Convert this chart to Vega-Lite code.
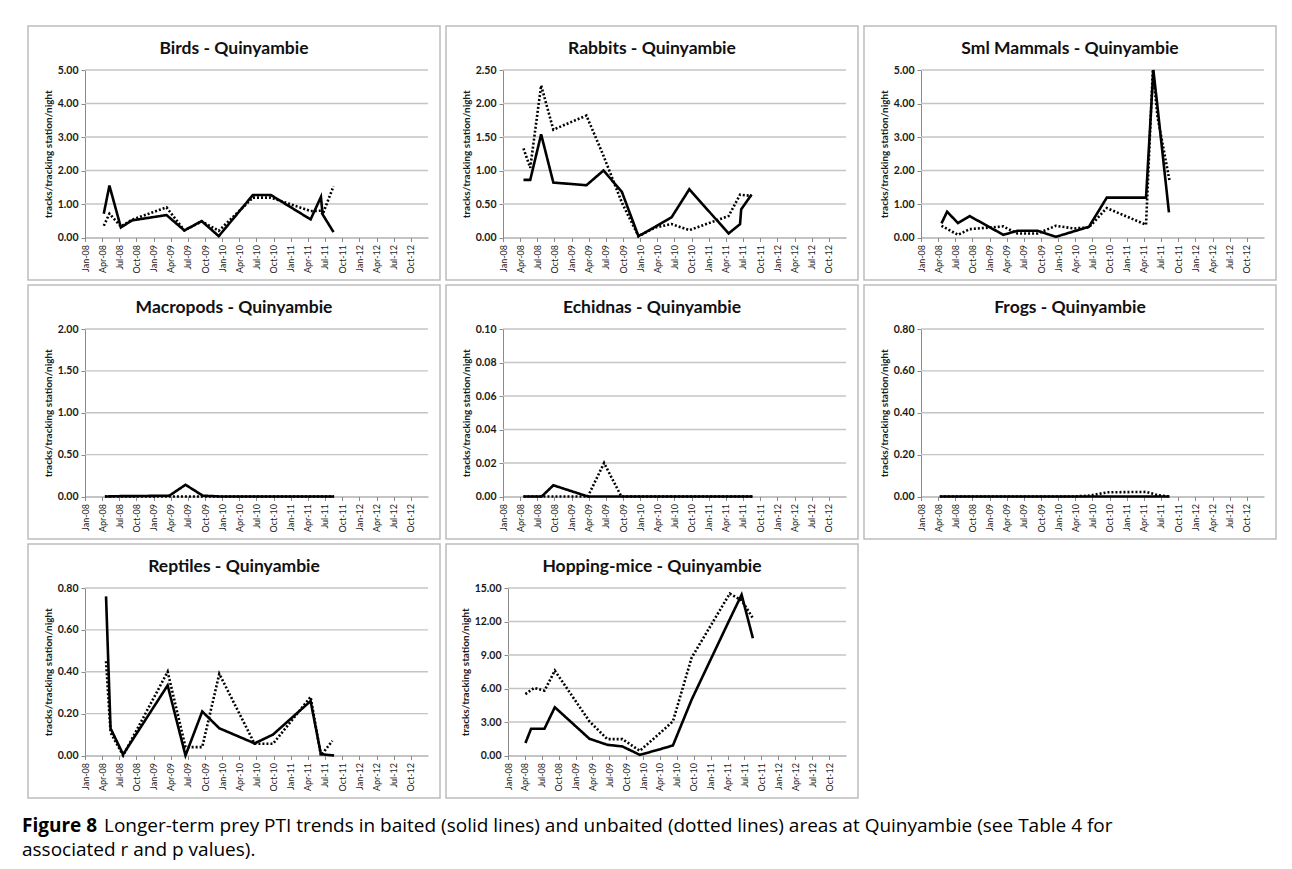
{
  "$schema": "https://vega.github.io/schema/vega-lite/v6.json",
  "background": "white",
  "padding": {"left": 22, "top": 25, "right": 5, "bottom": 5},
  "datasets": {
    "pti": [
      {"group": "Birds", "area": "Baited", "date": "2008-04-10", "pti": 0.71},
      {"group": "Birds", "area": "Baited", "date": "2008-05-10", "pti": 1.55},
      {"group": "Birds", "area": "Baited", "date": "2008-07-10", "pti": 0.30},
      {"group": "Birds", "area": "Baited", "date": "2008-09-07", "pti": 0.51},
      {"group": "Birds", "area": "Baited", "date": "2009-03-10", "pti": 0.67},
      {"group": "Birds", "area": "Baited", "date": "2009-06-13", "pti": 0.21},
      {"group": "Birds", "area": "Baited", "date": "2009-09-13", "pti": 0.49},
      {"group": "Birds", "area": "Baited", "date": "2009-12-13", "pti": 0.04},
      {"group": "Birds", "area": "Baited", "date": "2010-06-13", "pti": 1.27},
      {"group": "Birds", "area": "Baited", "date": "2010-09-16", "pti": 1.27},
      {"group": "Birds", "area": "Baited", "date": "2011-04-16", "pti": 0.54},
      {"group": "Birds", "area": "Baited", "date": "2011-06-10", "pti": 1.21},
      {"group": "Birds", "area": "Baited", "date": "2011-06-19", "pti": 0.69},
      {"group": "Birds", "area": "Baited", "date": "2011-08-16", "pti": 0.16},
      {"group": "Birds", "area": "Unbaited", "date": "2008-04-10", "pti": 0.35},
      {"group": "Birds", "area": "Unbaited", "date": "2008-05-10", "pti": 0.71},
      {"group": "Birds", "area": "Unbaited", "date": "2008-07-10", "pti": 0.33},
      {"group": "Birds", "area": "Unbaited", "date": "2008-09-07", "pti": 0.53},
      {"group": "Birds", "area": "Unbaited", "date": "2009-03-10", "pti": 0.90},
      {"group": "Birds", "area": "Unbaited", "date": "2009-06-13", "pti": 0.21},
      {"group": "Birds", "area": "Unbaited", "date": "2009-09-13", "pti": 0.48},
      {"group": "Birds", "area": "Unbaited", "date": "2009-12-13", "pti": 0.20},
      {"group": "Birds", "area": "Unbaited", "date": "2010-06-13", "pti": 1.19},
      {"group": "Birds", "area": "Unbaited", "date": "2010-09-16", "pti": 1.19},
      {"group": "Birds", "area": "Unbaited", "date": "2011-04-16", "pti": 0.79},
      {"group": "Birds", "area": "Unbaited", "date": "2011-06-10", "pti": 0.80},
      {"group": "Birds", "area": "Unbaited", "date": "2011-06-19", "pti": 0.69},
      {"group": "Birds", "area": "Unbaited", "date": "2011-08-16", "pti": 1.53},

      {"group": "Rabbits", "area": "Baited", "date": "2008-04-19", "pti": 0.86},
      {"group": "Rabbits", "area": "Baited", "date": "2008-05-25", "pti": 0.86},
      {"group": "Rabbits", "area": "Baited", "date": "2008-07-22", "pti": 1.54},
      {"group": "Rabbits", "area": "Baited", "date": "2008-09-25", "pti": 0.82},
      {"group": "Rabbits", "area": "Baited", "date": "2009-03-20", "pti": 0.78},
      {"group": "Rabbits", "area": "Baited", "date": "2009-06-19", "pti": 1.00},
      {"group": "Rabbits", "area": "Baited", "date": "2009-09-25", "pti": 0.68},
      {"group": "Rabbits", "area": "Baited", "date": "2009-12-22", "pti": 0.02},
      {"group": "Rabbits", "area": "Baited", "date": "2010-03-22", "pti": 0.16},
      {"group": "Rabbits", "area": "Baited", "date": "2010-06-16", "pti": 0.30},
      {"group": "Rabbits", "area": "Baited", "date": "2010-09-19", "pti": 0.72},
      {"group": "Rabbits", "area": "Baited", "date": "2011-04-16", "pti": 0.06},
      {"group": "Rabbits", "area": "Baited", "date": "2011-06-16", "pti": 0.20},
      {"group": "Rabbits", "area": "Baited", "date": "2011-06-22", "pti": 0.42},
      {"group": "Rabbits", "area": "Baited", "date": "2011-08-16", "pti": 0.64},
      {"group": "Rabbits", "area": "Unbaited", "date": "2008-04-19", "pti": 1.33},
      {"group": "Rabbits", "area": "Unbaited", "date": "2008-05-25", "pti": 1.04},
      {"group": "Rabbits", "area": "Unbaited", "date": "2008-07-22", "pti": 2.27},
      {"group": "Rabbits", "area": "Unbaited", "date": "2008-09-25", "pti": 1.61},
      {"group": "Rabbits", "area": "Unbaited", "date": "2009-03-20", "pti": 1.82},
      {"group": "Rabbits", "area": "Unbaited", "date": "2009-06-19", "pti": 1.22},
      {"group": "Rabbits", "area": "Unbaited", "date": "2009-09-25", "pti": 0.52},
      {"group": "Rabbits", "area": "Unbaited", "date": "2009-12-22", "pti": 0.02},
      {"group": "Rabbits", "area": "Unbaited", "date": "2010-03-22", "pti": 0.15},
      {"group": "Rabbits", "area": "Unbaited", "date": "2010-06-16", "pti": 0.20},
      {"group": "Rabbits", "area": "Unbaited", "date": "2010-09-19", "pti": 0.11},
      {"group": "Rabbits", "area": "Unbaited", "date": "2011-04-16", "pti": 0.32},
      {"group": "Rabbits", "area": "Unbaited", "date": "2011-06-16", "pti": 0.64},
      {"group": "Rabbits", "area": "Unbaited", "date": "2011-08-16", "pti": 0.62},

      {"group": "Sml Mammals", "area": "Baited", "date": "2008-04-19", "pti": 0.42},
      {"group": "Sml Mammals", "area": "Baited", "date": "2008-05-19", "pti": 0.77},
      {"group": "Sml Mammals", "area": "Baited", "date": "2008-07-16", "pti": 0.43},
      {"group": "Sml Mammals", "area": "Baited", "date": "2008-09-16", "pti": 0.64},
      {"group": "Sml Mammals", "area": "Baited", "date": "2009-03-14", "pti": 0.08},
      {"group": "Sml Mammals", "area": "Baited", "date": "2009-05-28", "pti": 0.20},
      {"group": "Sml Mammals", "area": "Baited", "date": "2009-09-13", "pti": 0.20},
      {"group": "Sml Mammals", "area": "Baited", "date": "2009-12-19", "pti": 0.02},
      {"group": "Sml Mammals", "area": "Baited", "date": "2010-06-13", "pti": 0.32},
      {"group": "Sml Mammals", "area": "Baited", "date": "2010-09-16", "pti": 1.19},
      {"group": "Sml Mammals", "area": "Baited", "date": "2011-04-13", "pti": 1.19},
      {"group": "Sml Mammals", "area": "Baited", "date": "2011-05-22", "pti": 6.4},
      {"group": "Sml Mammals", "area": "Baited", "date": "2011-06-13", "pti": 3.9},
      {"group": "Sml Mammals", "area": "Baited", "date": "2011-08-13", "pti": 0.75},
      {"group": "Sml Mammals", "area": "Unbaited", "date": "2008-04-19", "pti": 0.35},
      {"group": "Sml Mammals", "area": "Unbaited", "date": "2008-07-16", "pti": 0.08},
      {"group": "Sml Mammals", "area": "Unbaited", "date": "2008-09-16", "pti": 0.25},
      {"group": "Sml Mammals", "area": "Unbaited", "date": "2009-03-14", "pti": 0.33},
      {"group": "Sml Mammals", "area": "Unbaited", "date": "2009-05-28", "pti": 0.12},
      {"group": "Sml Mammals", "area": "Unbaited", "date": "2009-09-13", "pti": 0.12},
      {"group": "Sml Mammals", "area": "Unbaited", "date": "2009-12-19", "pti": 0.35},
      {"group": "Sml Mammals", "area": "Unbaited", "date": "2010-03-25", "pti": 0.27},
      {"group": "Sml Mammals", "area": "Unbaited", "date": "2010-06-13", "pti": 0.30},
      {"group": "Sml Mammals", "area": "Unbaited", "date": "2010-09-16", "pti": 0.88},
      {"group": "Sml Mammals", "area": "Unbaited", "date": "2011-04-13", "pti": 0.38},
      {"group": "Sml Mammals", "area": "Unbaited", "date": "2011-05-19", "pti": 6.0},
      {"group": "Sml Mammals", "area": "Unbaited", "date": "2011-06-13", "pti": 3.6},
      {"group": "Sml Mammals", "area": "Unbaited", "date": "2011-08-16", "pti": 1.70},

      {"group": "Macropods", "area": "Baited", "date": "2008-04-16", "pti": 0},
      {"group": "Macropods", "area": "Baited", "date": "2008-07-22", "pti": 0.005},
      {"group": "Macropods", "area": "Baited", "date": "2008-09-25", "pti": 0.005},
      {"group": "Macropods", "area": "Baited", "date": "2009-03-25", "pti": 0.01},
      {"group": "Macropods", "area": "Baited", "date": "2009-06-19", "pti": 0.14},
      {"group": "Macropods", "area": "Baited", "date": "2009-09-19", "pti": 0.01},
      {"group": "Macropods", "area": "Baited", "date": "2009-12-22", "pti": 0},
      {"group": "Macropods", "area": "Baited", "date": "2010-06-16", "pti": 0},
      {"group": "Macropods", "area": "Baited", "date": "2010-09-19", "pti": 0},
      {"group": "Macropods", "area": "Baited", "date": "2011-04-16", "pti": 0},
      {"group": "Macropods", "area": "Baited", "date": "2011-06-16", "pti": 0},
      {"group": "Macropods", "area": "Baited", "date": "2011-08-19", "pti": 0},
      {"group": "Macropods", "area": "Unbaited", "date": "2008-04-16", "pti": 0},
      {"group": "Macropods", "area": "Unbaited", "date": "2008-07-22", "pti": 0},
      {"group": "Macropods", "area": "Unbaited", "date": "2008-09-25", "pti": 0},
      {"group": "Macropods", "area": "Unbaited", "date": "2009-03-25", "pti": 0},
      {"group": "Macropods", "area": "Unbaited", "date": "2009-06-19", "pti": 0},
      {"group": "Macropods", "area": "Unbaited", "date": "2009-09-19", "pti": 0},
      {"group": "Macropods", "area": "Unbaited", "date": "2009-12-22", "pti": 0},
      {"group": "Macropods", "area": "Unbaited", "date": "2010-06-16", "pti": 0},
      {"group": "Macropods", "area": "Unbaited", "date": "2010-09-19", "pti": 0},
      {"group": "Macropods", "area": "Unbaited", "date": "2011-04-16", "pti": 0},
      {"group": "Macropods", "area": "Unbaited", "date": "2011-06-16", "pti": 0},
      {"group": "Macropods", "area": "Unbaited", "date": "2011-08-19", "pti": 0},

      {"group": "Echidnas", "area": "Baited", "date": "2008-04-19", "pti": 0},
      {"group": "Echidnas", "area": "Baited", "date": "2008-07-25", "pti": 0},
      {"group": "Echidnas", "area": "Baited", "date": "2008-09-25", "pti": 0.0067},
      {"group": "Echidnas", "area": "Baited", "date": "2009-03-28", "pti": 0},
      {"group": "Echidnas", "area": "Baited", "date": "2009-06-22", "pti": 0},
      {"group": "Echidnas", "area": "Baited", "date": "2009-09-22", "pti": 0},
      {"group": "Echidnas", "area": "Baited", "date": "2009-12-22", "pti": 0},
      {"group": "Echidnas", "area": "Baited", "date": "2010-06-16", "pti": 0},
      {"group": "Echidnas", "area": "Baited", "date": "2010-09-19", "pti": 0},
      {"group": "Echidnas", "area": "Baited", "date": "2011-04-16", "pti": 0},
      {"group": "Echidnas", "area": "Baited", "date": "2011-06-16", "pti": 0},
      {"group": "Echidnas", "area": "Baited", "date": "2011-08-22", "pti": 0},
      {"group": "Echidnas", "area": "Unbaited", "date": "2008-04-19", "pti": 0},
      {"group": "Echidnas", "area": "Unbaited", "date": "2008-07-25", "pti": 0},
      {"group": "Echidnas", "area": "Unbaited", "date": "2008-09-25", "pti": 0},
      {"group": "Echidnas", "area": "Unbaited", "date": "2009-03-28", "pti": 0},
      {"group": "Echidnas", "area": "Unbaited", "date": "2009-06-22", "pti": 0.02},
      {"group": "Echidnas", "area": "Unbaited", "date": "2009-09-22", "pti": 0},
      {"group": "Echidnas", "area": "Unbaited", "date": "2009-12-22", "pti": 0},
      {"group": "Echidnas", "area": "Unbaited", "date": "2010-06-16", "pti": 0},
      {"group": "Echidnas", "area": "Unbaited", "date": "2010-09-19", "pti": 0},
      {"group": "Echidnas", "area": "Unbaited", "date": "2011-04-16", "pti": 0},
      {"group": "Echidnas", "area": "Unbaited", "date": "2011-06-16", "pti": 0},
      {"group": "Echidnas", "area": "Unbaited", "date": "2011-08-22", "pti": 0},

      {"group": "Frogs", "area": "Baited", "date": "2008-04-10", "pti": 0},
      {"group": "Frogs", "area": "Baited", "date": "2008-07-22", "pti": 0},
      {"group": "Frogs", "area": "Baited", "date": "2008-09-25", "pti": 0},
      {"group": "Frogs", "area": "Baited", "date": "2009-03-20", "pti": 0},
      {"group": "Frogs", "area": "Baited", "date": "2009-06-19", "pti": 0},
      {"group": "Frogs", "area": "Baited", "date": "2009-09-25", "pti": 0},
      {"group": "Frogs", "area": "Baited", "date": "2009-12-22", "pti": 0},
      {"group": "Frogs", "area": "Baited", "date": "2010-06-16", "pti": 0},
      {"group": "Frogs", "area": "Baited", "date": "2010-09-19", "pti": 0},
      {"group": "Frogs", "area": "Baited", "date": "2011-04-16", "pti": 0},
      {"group": "Frogs", "area": "Baited", "date": "2011-06-16", "pti": 0},
      {"group": "Frogs", "area": "Baited", "date": "2011-08-16", "pti": 0},
      {"group": "Frogs", "area": "Unbaited", "date": "2008-04-10", "pti": 0},
      {"group": "Frogs", "area": "Unbaited", "date": "2008-07-22", "pti": 0},
      {"group": "Frogs", "area": "Unbaited", "date": "2008-09-25", "pti": 0},
      {"group": "Frogs", "area": "Unbaited", "date": "2009-03-20", "pti": 0},
      {"group": "Frogs", "area": "Unbaited", "date": "2009-06-19", "pti": 0},
      {"group": "Frogs", "area": "Unbaited", "date": "2009-09-25", "pti": 0},
      {"group": "Frogs", "area": "Unbaited", "date": "2009-12-22", "pti": 0},
      {"group": "Frogs", "area": "Unbaited", "date": "2010-03-22", "pti": 0},
      {"group": "Frogs", "area": "Unbaited", "date": "2010-06-16", "pti": 0.004},
      {"group": "Frogs", "area": "Unbaited", "date": "2010-09-19", "pti": 0.02},
      {"group": "Frogs", "area": "Unbaited", "date": "2011-04-16", "pti": 0.022},
      {"group": "Frogs", "area": "Unbaited", "date": "2011-06-16", "pti": 0.006},
      {"group": "Frogs", "area": "Unbaited", "date": "2011-08-16", "pti": 0},

      {"group": "Reptiles", "area": "Baited", "date": "2008-04-22", "pti": 0.76},
      {"group": "Reptiles", "area": "Baited", "date": "2008-05-16", "pti": 0.13},
      {"group": "Reptiles", "area": "Baited", "date": "2008-07-22", "pti": 0.005},
      {"group": "Reptiles", "area": "Baited", "date": "2009-03-16", "pti": 0.335},
      {"group": "Reptiles", "area": "Baited", "date": "2009-06-19", "pti": 0},
      {"group": "Reptiles", "area": "Baited", "date": "2009-09-16", "pti": 0.21},
      {"group": "Reptiles", "area": "Baited", "date": "2009-12-16", "pti": 0.13},
      {"group": "Reptiles", "area": "Baited", "date": "2010-06-22", "pti": 0.058},
      {"group": "Reptiles", "area": "Baited", "date": "2010-09-28", "pti": 0.10},
      {"group": "Reptiles", "area": "Baited", "date": "2011-04-16", "pti": 0.26},
      {"group": "Reptiles", "area": "Baited", "date": "2011-06-10", "pti": 0.006},
      {"group": "Reptiles", "area": "Baited", "date": "2011-08-19", "pti": 0},
      {"group": "Reptiles", "area": "Unbaited", "date": "2008-04-22", "pti": 0.45},
      {"group": "Reptiles", "area": "Unbaited", "date": "2008-05-16", "pti": 0.11},
      {"group": "Reptiles", "area": "Unbaited", "date": "2008-07-22", "pti": 0},
      {"group": "Reptiles", "area": "Unbaited", "date": "2009-03-16", "pti": 0.40},
      {"group": "Reptiles", "area": "Unbaited", "date": "2009-06-19", "pti": 0.04},
      {"group": "Reptiles", "area": "Unbaited", "date": "2009-09-16", "pti": 0.04},
      {"group": "Reptiles", "area": "Unbaited", "date": "2009-12-16", "pti": 0.39},
      {"group": "Reptiles", "area": "Unbaited", "date": "2010-06-22", "pti": 0.056},
      {"group": "Reptiles", "area": "Unbaited", "date": "2010-09-28", "pti": 0.056},
      {"group": "Reptiles", "area": "Unbaited", "date": "2011-04-16", "pti": 0.28},
      {"group": "Reptiles", "area": "Unbaited", "date": "2011-06-10", "pti": 0},
      {"group": "Reptiles", "area": "Unbaited", "date": "2011-08-10", "pti": 0.07},

      {"group": "Hopping-mice", "area": "Baited", "date": "2008-04-04", "pti": 1.11},
      {"group": "Hopping-mice", "area": "Baited", "date": "2008-05-05", "pti": 2.40},
      {"group": "Hopping-mice", "area": "Baited", "date": "2008-07-16", "pti": 2.40},
      {"group": "Hopping-mice", "area": "Baited", "date": "2008-09-10", "pti": 4.32},
      {"group": "Hopping-mice", "area": "Baited", "date": "2009-03-16", "pti": 1.50},
      {"group": "Hopping-mice", "area": "Baited", "date": "2009-06-20", "pti": 0.96},
      {"group": "Hopping-mice", "area": "Baited", "date": "2009-09-10", "pti": 0.81},
      {"group": "Hopping-mice", "area": "Baited", "date": "2009-12-13", "pti": 0.06},
      {"group": "Hopping-mice", "area": "Baited", "date": "2010-03-22", "pti": 0.51},
      {"group": "Hopping-mice", "area": "Baited", "date": "2010-06-10", "pti": 0.90},
      {"group": "Hopping-mice", "area": "Baited", "date": "2010-09-19", "pti": 5.00},
      {"group": "Hopping-mice", "area": "Baited", "date": "2011-04-13", "pti": 12.2},
      {"group": "Hopping-mice", "area": "Baited", "date": "2011-06-16", "pti": 14.4},
      {"group": "Hopping-mice", "area": "Baited", "date": "2011-08-16", "pti": 10.5},
      {"group": "Hopping-mice", "area": "Unbaited", "date": "2008-04-04", "pti": 5.50},
      {"group": "Hopping-mice", "area": "Unbaited", "date": "2008-05-22", "pti": 6.06},
      {"group": "Hopping-mice", "area": "Unbaited", "date": "2008-07-16", "pti": 5.80},
      {"group": "Hopping-mice", "area": "Unbaited", "date": "2008-09-10", "pti": 7.60},
      {"group": "Hopping-mice", "area": "Unbaited", "date": "2009-03-16", "pti": 3.06},
      {"group": "Hopping-mice", "area": "Unbaited", "date": "2009-06-20", "pti": 1.47},
      {"group": "Hopping-mice", "area": "Unbaited", "date": "2009-09-10", "pti": 1.47},
      {"group": "Hopping-mice", "area": "Unbaited", "date": "2009-12-13", "pti": 0.42},
      {"group": "Hopping-mice", "area": "Unbaited", "date": "2010-03-22", "pti": 1.86},
      {"group": "Hopping-mice", "area": "Unbaited", "date": "2010-06-10", "pti": 3.06},
      {"group": "Hopping-mice", "area": "Unbaited", "date": "2010-09-19", "pti": 8.76},
      {"group": "Hopping-mice", "area": "Unbaited", "date": "2011-04-13", "pti": 14.5},
      {"group": "Hopping-mice", "area": "Unbaited", "date": "2011-06-16", "pti": 13.9},
      {"group": "Hopping-mice", "area": "Unbaited", "date": "2011-08-16", "pti": 12.3}
    ],
    "caption": [
      {"line": 1, "lead": "Figure 8", "text": "Longer-term prey PTI trends in baited (solid lines) and unbaited (dotted lines) areas at Quinyambie (see Table 4 for"},
      {"line": 2, "lead": "", "text": "associated r and p values)."}
    ]
  },
  "vconcat": [
    {
      "data": {"name": "pti"},
      "columns": 3,
      "spacing": {"row": 3, "column": 4},
      "concat": [
        {
          "title": "Birds - Quinyambie",
          "width": 412, "height": 254,
          "layer": [
            {
              "data": {"values": [{"tick": 1}, {"tick": 2}, {"tick": 3}, {"tick": 4}, {"tick": 5}]},
              "mark": {"type": "rule", "color": "#c4c4c4", "strokeWidth": 1.3},
              "encoding": {
                "y": {"field": "tick", "type": "quantitative", "title": "tracks/tracking station/night"},
                "x": {"datum": {"year": 2008, "month": 1, "date": 1, "utc": true}, "type": "temporal", "title": null},
                "x2": {"datum": {"year": 2012, "month": 12, "date": 31, "utc": true}}
              }
            },
            {
              "transform": [{"filter": "datum.group === 'Birds'"}],
              "mark": {"type": "line", "clip": true, "color": "black", "strokeWidth": 2.6},
              "encoding": {
                "x": {"field": "date", "type": "temporal", "title": null,
                      "scale": {"type": "utc", "range": [57, 400], "domain": [{"year": 2008, "month": 1, "date": 1, "utc": true}, {"year": 2012, "month": 12, "date": 31, "utc": true}]}},
                "y": {"field": "pti", "type": "quantitative", "title": "tracks/tracking station/night",
                      "scale": {"domain": [0, 5], "nice": false, "range": [211.5, 44]}, "axis": {"values": [0, 1, 2, 3, 4, 5], "format": ".2f"}},
                "strokeDash": {"field": "area", "type": "nominal", "legend": null,
                               "scale": {"domain": ["Baited", "Unbaited"], "range": [[1, 0], [2, 2]]}}
              }
            }
          ]
        },
        {
          "title": "Rabbits - Quinyambie",
          "width": 412, "height": 254,
          "layer": [
            {
              "data": {"values": [{"tick": 0.5}, {"tick": 1}, {"tick": 1.5}, {"tick": 2}, {"tick": 2.5}]},
              "mark": {"type": "rule", "color": "#c4c4c4", "strokeWidth": 1.3},
              "encoding": {
                "y": {"field": "tick", "type": "quantitative", "title": "tracks/tracking station/night"},
                "x": {"datum": {"year": 2008, "month": 1, "date": 1, "utc": true}, "type": "temporal", "title": null},
                "x2": {"datum": {"year": 2012, "month": 12, "date": 31, "utc": true}}
              }
            },
            {
              "transform": [{"filter": "datum.group === 'Rabbits'"}],
              "mark": {"type": "line", "clip": true, "color": "black", "strokeWidth": 2.6},
              "encoding": {
                "x": {"field": "date", "type": "temporal", "title": null,
                      "scale": {"type": "utc", "range": [57, 400], "domain": [{"year": 2008, "month": 1, "date": 1, "utc": true}, {"year": 2012, "month": 12, "date": 31, "utc": true}]}},
                "y": {"field": "pti", "type": "quantitative", "title": "tracks/tracking station/night",
                      "scale": {"domain": [0, 2.5], "nice": false, "range": [211.5, 44]}, "axis": {"values": [0, 0.5, 1, 1.5, 2, 2.5], "format": ".2f"}},
                "strokeDash": {"field": "area", "type": "nominal", "legend": null,
                               "scale": {"domain": ["Baited", "Unbaited"], "range": [[1, 0], [2, 2]]}}
              }
            }
          ]
        },
        {
          "title": "Sml Mammals - Quinyambie",
          "width": 412, "height": 254,
          "layer": [
            {
              "data": {"values": [{"tick": 1}, {"tick": 2}, {"tick": 3}, {"tick": 4}, {"tick": 5}]},
              "mark": {"type": "rule", "color": "#c4c4c4", "strokeWidth": 1.3},
              "encoding": {
                "y": {"field": "tick", "type": "quantitative", "title": "tracks/tracking station/night"},
                "x": {"datum": {"year": 2008, "month": 1, "date": 1, "utc": true}, "type": "temporal", "title": null},
                "x2": {"datum": {"year": 2012, "month": 12, "date": 31, "utc": true}}
              }
            },
            {
              "transform": [{"filter": "datum.group === 'Sml Mammals'"}],
              "mark": {"type": "line", "clip": true, "color": "black", "strokeWidth": 2.6},
              "encoding": {
                "x": {"field": "date", "type": "temporal", "title": null,
                      "scale": {"type": "utc", "range": [57, 400], "domain": [{"year": 2008, "month": 1, "date": 1, "utc": true}, {"year": 2012, "month": 12, "date": 31, "utc": true}]}},
                "y": {"field": "pti", "type": "quantitative", "title": "tracks/tracking station/night",
                      "scale": {"domain": [0, 5], "nice": false, "clamp": true, "range": [211.5, 44]}, "axis": {"values": [0, 1, 2, 3, 4, 5], "format": ".2f"}},
                "strokeDash": {"field": "area", "type": "nominal", "legend": null,
                               "scale": {"domain": ["Baited", "Unbaited"], "range": [[1, 0], [2, 2]]}}
              }
            }
          ]
        },
        {
          "title": "Macropods - Quinyambie",
          "width": 412, "height": 254,
          "layer": [
            {
              "data": {"values": [{"tick": 0.5}, {"tick": 1}, {"tick": 1.5}, {"tick": 2}]},
              "mark": {"type": "rule", "color": "#c4c4c4", "strokeWidth": 1.3},
              "encoding": {
                "y": {"field": "tick", "type": "quantitative", "title": "tracks/tracking station/night"},
                "x": {"datum": {"year": 2008, "month": 1, "date": 1, "utc": true}, "type": "temporal", "title": null},
                "x2": {"datum": {"year": 2012, "month": 12, "date": 31, "utc": true}}
              }
            },
            {
              "transform": [{"filter": "datum.group === 'Macropods'"}],
              "mark": {"type": "line", "clip": true, "color": "black", "strokeWidth": 2.6},
              "encoding": {
                "x": {"field": "date", "type": "temporal", "title": null,
                      "scale": {"type": "utc", "range": [57, 400], "domain": [{"year": 2008, "month": 1, "date": 1, "utc": true}, {"year": 2012, "month": 12, "date": 31, "utc": true}]}},
                "y": {"field": "pti", "type": "quantitative", "title": "tracks/tracking station/night",
                      "scale": {"domain": [0, 2], "nice": false, "range": [211.5, 44]}, "axis": {"values": [0, 0.5, 1, 1.5, 2], "format": ".2f"}},
                "strokeDash": {"field": "area", "type": "nominal", "legend": null,
                               "scale": {"domain": ["Baited", "Unbaited"], "range": [[1, 0], [2, 2]]}}
              }
            }
          ]
        },
        {
          "title": "Echidnas - Quinyambie",
          "width": 412, "height": 254,
          "layer": [
            {
              "data": {"values": [{"tick": 0.02}, {"tick": 0.04}, {"tick": 0.06}, {"tick": 0.08}, {"tick": 0.1}]},
              "mark": {"type": "rule", "color": "#c4c4c4", "strokeWidth": 1.3},
              "encoding": {
                "y": {"field": "tick", "type": "quantitative", "title": "tracks/tracking station/night"},
                "x": {"datum": {"year": 2008, "month": 1, "date": 1, "utc": true}, "type": "temporal", "title": null},
                "x2": {"datum": {"year": 2012, "month": 12, "date": 31, "utc": true}}
              }
            },
            {
              "transform": [{"filter": "datum.group === 'Echidnas'"}],
              "mark": {"type": "line", "clip": true, "color": "black", "strokeWidth": 2.6},
              "encoding": {
                "x": {"field": "date", "type": "temporal", "title": null,
                      "scale": {"type": "utc", "range": [57, 400], "domain": [{"year": 2008, "month": 1, "date": 1, "utc": true}, {"year": 2012, "month": 12, "date": 31, "utc": true}]}},
                "y": {"field": "pti", "type": "quantitative", "title": "tracks/tracking station/night",
                      "scale": {"domain": [0, 0.1], "nice": false, "range": [211.5, 44]}, "axis": {"values": [0, 0.02, 0.04, 0.06, 0.08, 0.1], "format": ".2f"}},
                "strokeDash": {"field": "area", "type": "nominal", "legend": null,
                               "scale": {"domain": ["Baited", "Unbaited"], "range": [[1, 0], [2, 2]]}}
              }
            }
          ]
        },
        {
          "title": "Frogs - Quinyambie",
          "width": 412, "height": 254,
          "layer": [
            {
              "data": {"values": [{"tick": 0.2}, {"tick": 0.4}, {"tick": 0.6}, {"tick": 0.8}]},
              "mark": {"type": "rule", "color": "#c4c4c4", "strokeWidth": 1.3},
              "encoding": {
                "y": {"field": "tick", "type": "quantitative", "title": "tracks/tracking station/night"},
                "x": {"datum": {"year": 2008, "month": 1, "date": 1, "utc": true}, "type": "temporal", "title": null},
                "x2": {"datum": {"year": 2012, "month": 12, "date": 31, "utc": true}}
              }
            },
            {
              "transform": [{"filter": "datum.group === 'Frogs'"}],
              "mark": {"type": "line", "clip": true, "color": "black", "strokeWidth": 2.6},
              "encoding": {
                "x": {"field": "date", "type": "temporal", "title": null,
                      "scale": {"type": "utc", "range": [57, 400], "domain": [{"year": 2008, "month": 1, "date": 1, "utc": true}, {"year": 2012, "month": 12, "date": 31, "utc": true}]}},
                "y": {"field": "pti", "type": "quantitative", "title": "tracks/tracking station/night",
                      "scale": {"domain": [0, 0.8], "nice": false, "range": [211.5, 44]}, "axis": {"values": [0, 0.2, 0.4, 0.6, 0.8], "format": ".2f"}},
                "strokeDash": {"field": "area", "type": "nominal", "legend": null,
                               "scale": {"domain": ["Baited", "Unbaited"], "range": [[1, 0], [2, 2]]}}
              }
            }
          ]
        },
        {
          "title": "Reptiles - Quinyambie",
          "width": 412, "height": 254,
          "layer": [
            {
              "data": {"values": [{"tick": 0.2}, {"tick": 0.4}, {"tick": 0.6}, {"tick": 0.8}]},
              "mark": {"type": "rule", "color": "#c4c4c4", "strokeWidth": 1.3},
              "encoding": {
                "y": {"field": "tick", "type": "quantitative", "title": "tracks/tracking station/night"},
                "x": {"datum": {"year": 2008, "month": 1, "date": 1, "utc": true}, "type": "temporal", "title": null},
                "x2": {"datum": {"year": 2012, "month": 12, "date": 31, "utc": true}}
              }
            },
            {
              "transform": [{"filter": "datum.group === 'Reptiles'"}],
              "mark": {"type": "line", "clip": true, "color": "black", "strokeWidth": 2.6},
              "encoding": {
                "x": {"field": "date", "type": "temporal", "title": null,
                      "scale": {"type": "utc", "range": [57, 400], "domain": [{"year": 2008, "month": 1, "date": 1, "utc": true}, {"year": 2012, "month": 12, "date": 31, "utc": true}]}},
                "y": {"field": "pti", "type": "quantitative", "title": "tracks/tracking station/night",
                      "scale": {"domain": [0, 0.8], "nice": false, "range": [211.5, 44]}, "axis": {"values": [0, 0.2, 0.4, 0.6, 0.8], "format": ".2f"}},
                "strokeDash": {"field": "area", "type": "nominal", "legend": null,
                               "scale": {"domain": ["Baited", "Unbaited"], "range": [[1, 0], [2, 2]]}}
              }
            }
          ]
        },
        {
          "title": "Hopping-mice - Quinyambie",
          "width": 412, "height": 254,
          "layer": [
            {
              "data": {"values": [{"tick": 3}, {"tick": 6}, {"tick": 9}, {"tick": 12}, {"tick": 15}]},
              "mark": {"type": "rule", "color": "#c4c4c4", "strokeWidth": 1.3},
              "encoding": {
                "y": {"field": "tick", "type": "quantitative", "title": "tracks/tracking station/night"},
                "x": {"datum": {"year": 2008, "month": 1, "date": 1, "utc": true}, "type": "temporal", "title": null},
                "x2": {"datum": {"year": 2012, "month": 12, "date": 31, "utc": true}}
              }
            },
            {
              "transform": [{"filter": "datum.group === 'Hopping-mice'"}],
              "mark": {"type": "line", "clip": true, "color": "black", "strokeWidth": 2.6},
              "encoding": {
                "x": {"field": "date", "type": "temporal", "title": null,
                      "scale": {"type": "utc", "range": [62, 400], "domain": [{"year": 2008, "month": 1, "date": 1, "utc": true}, {"year": 2012, "month": 12, "date": 31, "utc": true}]}},
                "y": {"field": "pti", "type": "quantitative", "title": "tracks/tracking station/night",
                      "scale": {"domain": [0, 15], "nice": false, "range": [211.5, 44]}, "axis": {"values": [0, 3, 6, 9, 12, 15], "format": ".2f", "offset": -62}},
                "strokeDash": {"field": "area", "type": "nominal", "legend": null,
                               "scale": {"domain": ["Baited", "Unbaited"], "range": [[1, 0], [2, 2]]}}
              }
            }
          ]
        }
      ]
    },
    {
      "data": {"name": "caption"},
      "width": 1230,
      "height": 48,
      "view": {"stroke": null},
      "encoding": {
        "x": {"value": 0},
        "y": {"field": "line", "type": "ordinal", "axis": null}
      },
      "layer": [
        {
          "mark": {"type": "text", "align": "left", "baseline": "middle", "dx": -6, "font": "Open Sans", "fontSize": 19, "fontWeight": "bold", "color": "black"},
          "encoding": {"text": {"field": "lead"}}
        },
        {
          "transform": [{"filter": "datum.line === 1"}],
          "mark": {"type": "text", "align": "left", "baseline": "middle", "dx": 76, "font": "Open Sans", "fontSize": 19, "color": "black"},
          "encoding": {"text": {"field": "text"}}
        },
        {
          "transform": [{"filter": "datum.line === 2"}],
          "mark": {"type": "text", "align": "left", "baseline": "middle", "dx": -6, "font": "Open Sans", "fontSize": 19, "color": "black"},
          "encoding": {"text": {"field": "text"}}
        }
      ]
    }
  ],
  "spacing": 15,
  "config": {
    "view": {"stroke": "#bdbdbd", "strokeWidth": 1.5},
    "font": "Lato",
    "title": {"font": "Lato", "fontSize": 17.5, "fontWeight": "bold", "color": "#111111", "frame": "bounds", "anchor": "middle", "offset": -31},
    "axis": {
      "domainColor": "#8a8a8a",
      "tickColor": "#8a8a8a",
      "labelFont": "Lato",
      "labelFontSize": 9,
      "labelColor": "#1a1a1a",
      "titleFont": "Lato",
      "titleColor": "#1a1a1a"
    },
    "axisX": {
      "grid": false,
      "offset": -42.5,
      "labelAngle": -90,
      "format": "%b-%y",
      "tickCount": {"interval": "month", "step": 3},
      "labelFlush": false,
      "labelOverlap": false,
      "tickSize": 4,
      "labelPadding": 3
    },
    "axisY": {
      "grid": false,
      "offset": -57,
      "tickSize": 4,
      "labelPadding": 3,
      "labelFontSize": 10.5,
      "labelFontWeight": "bold",
      "titleFontSize": 10,
      "titleFontWeight": "bold",
      "titlePadding": 4
    }
  }
}
